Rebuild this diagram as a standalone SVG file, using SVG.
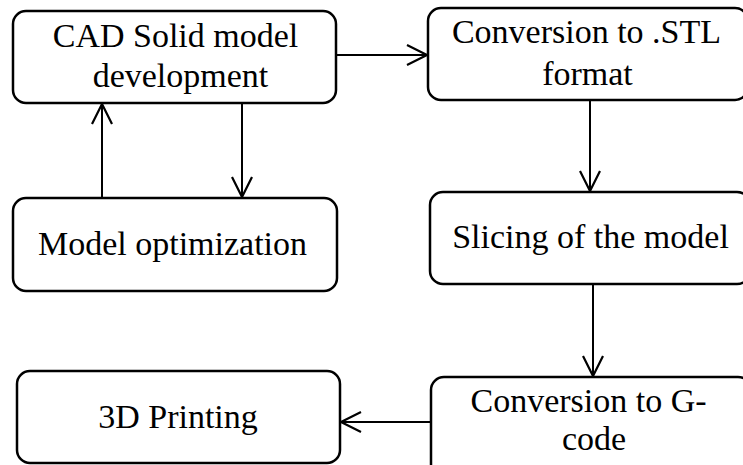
<svg xmlns="http://www.w3.org/2000/svg" width="743" height="465" viewBox="0 0 743 465">
<defs>
<style>
.box{fill:#fff;stroke:#000;stroke-width:2.5}
.c{fill:none;stroke:#000;stroke-width:2}
</style>
<marker id="ah" markerUnits="userSpaceOnUse" markerWidth="24" markerHeight="24" viewBox="-22 -12 24 24" refX="0" refY="0" orient="auto" overflow="visible">
<path d="M-20,-10 L0,0 L-20,10" fill="none" stroke="#000" stroke-width="2.2"/>
</marker>
</defs>
<rect width="743" height="465" fill="#fff"/>
<g id="connectors">
<line class="c" x1="336" y1="55" x2="427" y2="55" marker-end="url(#ah)"/>
<line class="c" x1="102" y1="198" x2="102" y2="104" marker-end="url(#ah)"/>
<line class="c" x1="242" y1="103" x2="242" y2="197" marker-end="url(#ah)"/>
<line class="c" x1="590" y1="100" x2="590" y2="191" marker-end="url(#ah)"/>
<line class="c" x1="593" y1="284" x2="593" y2="376" marker-end="url(#ah)"/>
<line class="c" x1="431" y1="422" x2="341" y2="422" marker-end="url(#ah)"/>
</g>
<g font-family="Liberation Serif" font-size="34" text-anchor="middle" fill="#000">
<g id="cad">
<rect class="box" x="13" y="11" width="323" height="92" rx="13"/>
<text x="175.5" y="47">CAD Solid model</text>
<text x="180.5" y="87">development</text>
</g>
<g id="optimization">
<rect class="box" x="13" y="198" width="324" height="93" rx="13"/>
<text x="172.5" y="255">Model optimization</text>
</g>
<g id="printing">
<rect class="box" x="17" y="371" width="323" height="92" rx="13"/>
<text x="178" y="428">3D Printing</text>
</g>
<g id="stl">
<rect class="box" x="428" y="8" width="320" height="92" rx="13"/>
<text x="586.5" y="43">Conversion to .STL</text>
<text x="587.5" y="85">format</text>
</g>
<g id="slicing">
<rect class="box" x="430" y="192" width="320" height="92" rx="13"/>
<text x="590.5" y="248">Slicing of the model</text>
</g>
<g id="gcode">
<rect class="box" x="431" y="377" width="320" height="100" rx="13"/>
<text x="588.5" y="412">Conversion to G-</text>
<text x="594" y="450">code</text>
</g>
</g>
</svg>
